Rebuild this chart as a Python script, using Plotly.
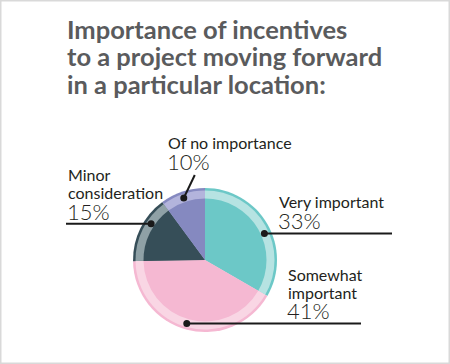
import math
import plotly.graph_objects as go

# ---- data ----
categories = ["Very important", "Somewhat important", "Minor consideration", "Of no importance"]
values = [33, 41, 15, 10]
pct_labels = ["33%", "41%", "15%", "10%"]
name_lines = [["Very important"], ["Somewhat", "important"], ["Minor", "consideration"], ["Of no importance"]]
title_lines = ["Importance of incentives", "to a project moving forward", "in a particular location:"]

solid_colors = ["#6cc8c7", "#f5b8d2", "#364e58", "#8589c0"]
ring_colors = ["#b6e3e2", "#f9d6e4", "#8fa1a6", "#b3b4dc"]

W, H = 450, 364
CX, CY = 205, 260          # pie centre (px)
R_OUT, R_RING, R_IN = 72, 69.5, 61.5
leader_frac = [0.55, 0.51, 0.64, 0.48]   # where along each slice the leader dot sits
leader_r = [65, 66, 65, 65.5]

def px(x):
    return x / W

def py(y):
    return 1 - y / H

def dom(r):
    return dict(x=[px(CX - r), px(CX + r)], y=[py(CY + r), py(CY - r)])

fig = go.Figure()
for r, cols in [(R_OUT, solid_colors), (R_RING, ring_colors), (R_IN, solid_colors)]:
    fig.add_trace(go.Pie(
        labels=categories, values=values, sort=False, direction="clockwise",
        rotation=0, marker=dict(colors=cols, line=dict(width=0)),
        textinfo="none", hoverinfo="label+percent", showlegend=False,
        domain=dom(r),
    ))

# ---- leader dots on the slices ----
total = sum(values)
cum = 0
dots = []
for v, f, rr in zip(values, leader_frac, leader_r):
    ang = (cum + v * f) / total * 2 * math.pi
    cum += v
    dots.append((CX + rr * math.sin(ang), CY - rr * math.cos(ang)))

shapes = []
line_style = dict(color="#1a1a1a", width=2)
for i, xend in [(0, 392), (1, 361)]:
    x0, y0 = dots[i]
    shapes.append(dict(type="line", xref="paper", yref="paper",
                       x0=px(x0), y0=py(y0), x1=px(xend), y1=py(y0), line=line_style))
x0, y0 = dots[2]
shapes.append(dict(type="line", xref="paper", yref="paper",
                   x0=px(66), y0=py(y0), x1=px(x0), y1=py(y0), line=line_style))
x0, y0 = dots[3]
shapes.append(dict(type="line", xref="paper", yref="paper",
                   x0=px(x0), y0=py(y0), x1=px(x0 + 11), y1=py(y0 - 23), line=line_style))
for (x0, y0) in dots:
    rr = 3.5
    shapes.append(dict(type="circle", xref="paper", yref="paper",
                       x0=px(x0 - rr), x1=px(x0 + rr), y0=py(y0 + rr), y1=py(y0 - rr),
                       fillcolor="#1a1a1a", line=dict(width=0)))
shapes.append(dict(type="rect", xref="paper", yref="paper", x0=0, y0=0, x1=1, y1=1,
                   line=dict(color="#d9d9d9", width=3)))

ann = []
TITLE_FONT = dict(family="Lato", size=25.5, color="#5a5b5d")
for k, t in enumerate(title_lines):
    ann.append(dict(text=f"<b>{t}</b>", x=px(66), y=py(45 + 27.5 * k), xref="paper", yref="paper",
                    xanchor="left", yanchor="bottom", showarrow=False, font=TITLE_FONT, borderpad=0))

NAME_FONT = dict(family="Lato", size=16, color="#231f20")
PCT_FONT = dict(family="Lato Light", size=22, color="#231f20")
# (left x, baseline y of each name line, baseline of pct)
label_pos = [
    (278, [207], 227),
    (287, [280, 298], 317),
    (67, [180, 198], 218),
    (167, [148], 168),
]
for i, (lx, bls, pb) in enumerate(label_pos):
    for line, bl in zip(name_lines[i], bls):
        ann.append(dict(text=line, x=px(lx), y=py(bl + 5), xref="paper", yref="paper",
                        xanchor="left", yanchor="bottom", showarrow=False, font=NAME_FONT,
                        borderpad=0))
    ann.append(dict(text=pct_labels[i], x=px(lx - 1), y=py(pb + 8), xref="paper", yref="paper",
                    xanchor="left", yanchor="bottom", showarrow=False, font=PCT_FONT,
                    borderpad=0))

fig.update_layout(
    width=W, height=H, margin=dict(l=0, r=0, t=0, b=0),
    paper_bgcolor="white", plot_bgcolor="white",
    shapes=shapes, annotations=ann,
)
fig.write_html("out.html", config={"displayModeBar": False},
               post_script="document.body.style.margin='0';document.body.style.overflow='hidden';")
